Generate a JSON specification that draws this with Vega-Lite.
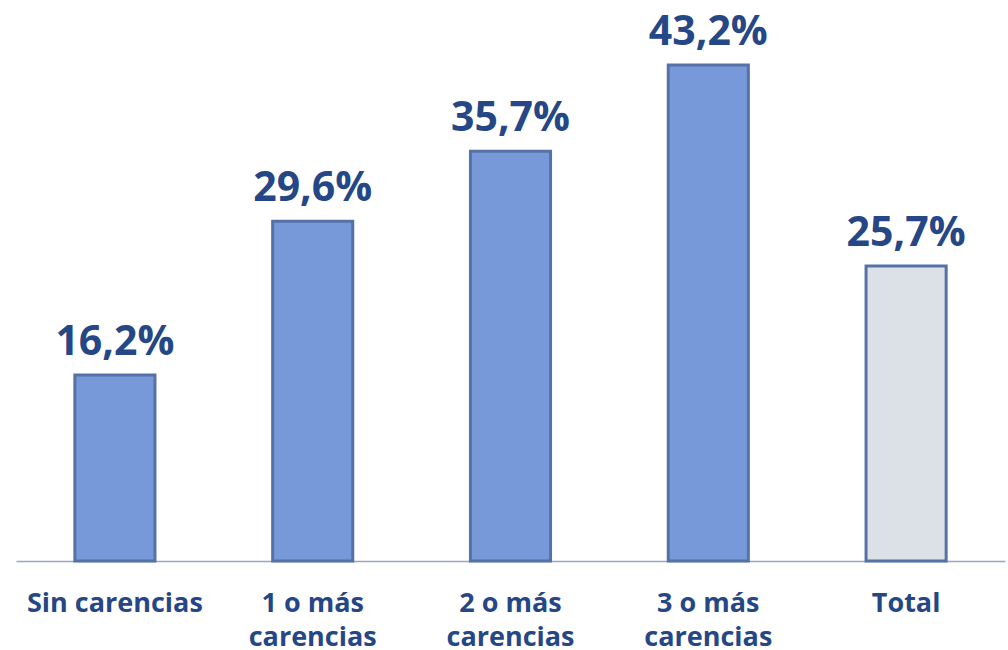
{
  "$schema": "https://vega.github.io/schema/vega-lite/v6.json",
  "autosize": "none",
  "padding": {"left": 16, "top": 0, "right": 3, "bottom": 89},
  "width": 989,
  "height": 561,
  "background": "white",
  "data": {
    "values": [
      {"cat": "Sin carencias", "value": 16.2, "label": "16,2%", "total": false},
      {"cat": "1 o más|carencias", "value": 29.6, "label": "29,6%", "total": false},
      {"cat": "2 o más|carencias", "value": 35.7, "label": "35,7%", "total": false},
      {"cat": "3 o más|carencias", "value": 43.2, "label": "43,2%", "total": false},
      {"cat": "Total", "value": 25.7, "label": "25,7%", "total": true}
    ]
  },
  "encoding": {
    "x": {
      "field": "cat",
      "type": "nominal",
      "sort": null,
      "scale": {"paddingInner": 0.595, "paddingOuter": 0.2975},
      "axis": {
        "title": null,
        "labelAngle": 0,
        "labelExpr": "split(datum.label, '|')",
        "labelFont": "Open Sans",
        "labelFontWeight": "bold",
        "labelFontSize": 27,
        "labelColor": "#264785",
        "labelLineHeight": 34,
        "labelBaseline": "alphabetic",
        "labelPadding": 50,
        "ticks": false,
        "tickSize": 0,
        "domainColor": "#9DA5BE",
        "domainWidth": 1.5,
        "grid": false
      }
    },
    "y": {
      "field": "value",
      "type": "quantitative",
      "scale": {"domain": [0, 48.87], "nice": false},
      "axis": null
    }
  },
  "layer": [
    {
      "mark": {"type": "bar", "strokeWidth": 3, "stroke": "#5572A6"},
      "encoding": {
        "fill": {
          "field": "total",
          "type": "nominal",
          "scale": {"domain": [false, true], "range": ["#7899D9", "#DCE0E7"]},
          "legend": null
        }
      }
    },
    {
      "mark": {
        "type": "text",
        "font": "Open Sans",
        "fontWeight": "bold",
        "fontSize": 41,
        "color": "#264785",
        "baseline": "alphabetic",
        "dy": -20
      },
      "encoding": {"text": {"field": "label"}}
    }
  ],
  "config": {"view": {"stroke": null}}
}
